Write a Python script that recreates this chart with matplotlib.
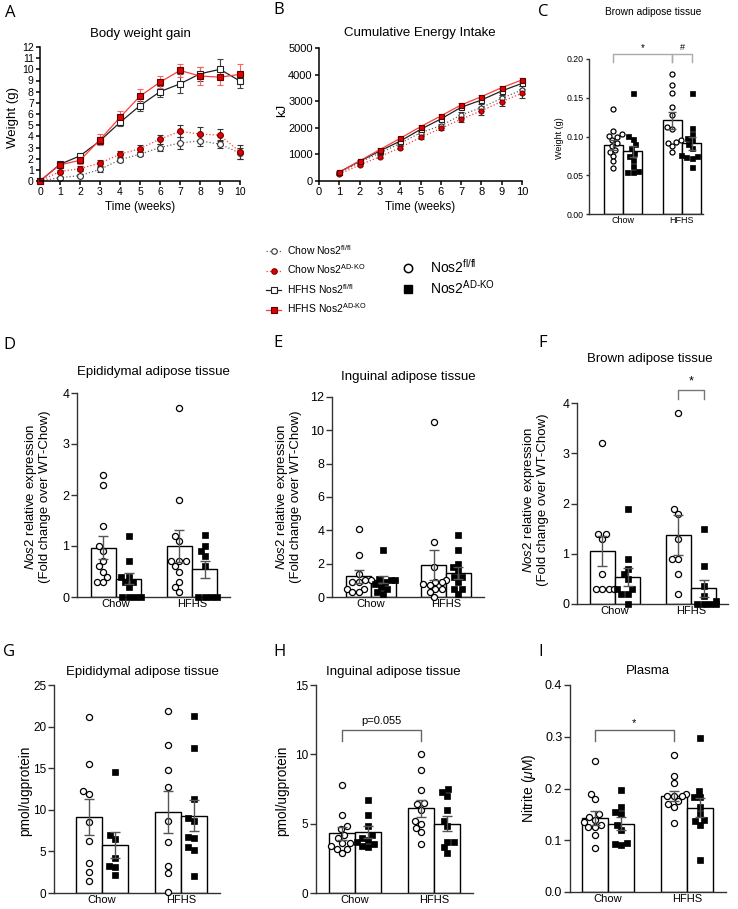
import numpy as np
import matplotlib
matplotlib.use("Agg")
import matplotlib.pyplot as plt
from matplotlib.lines import Line2D

plt.rcParams['font.family'] = ['Liberation Sans', 'DejaVu Sans']
plt.rcParams['mathtext.fontset'] = 'custom'
plt.rcParams['mathtext.rm'] = 'Liberation Sans'
plt.rcParams['mathtext.it'] = 'Liberation Sans:italic'

# ---- A: body weight gain (g) ----
weeks = list(range(11))
bw_chow_wt = [0, 0.3, 0.48, 1.05, 1.9, 2.4, 3.0, 3.4, 3.6, 3.3, 2.5]
bw_chow_wt_sem = [0, 0.1, 0.15, 0.2, 0.2, 0.2, 0.35, 0.5, 0.5, 0.35, 0.5]
bw_chow_ko = [0, 0.85, 1.1, 1.6, 2.4, 2.9, 3.75, 4.45, 4.2, 4.1, 2.6]
bw_chow_ko_sem = [0, 0.15, 0.2, 0.25, 0.25, 0.3, 0.4, 0.55, 0.6, 0.55, 0.6]
bw_hfhs_wt = [0, 1.5, 2.25, 3.6, 5.25, 6.75, 8.0, 8.7, 9.6, 10.0, 8.95]
bw_hfhs_wt_sem = [0, 0.15, 0.2, 0.3, 0.35, 0.45, 0.5, 0.85, 0.6, 0.9, 0.6]
bw_hfhs_ko = [0, 1.45, 1.85, 3.7, 5.7, 7.6, 8.85, 9.9, 9.4, 9.3, 9.55]
bw_hfhs_ko_sem = [0, 0.15, 0.3, 0.5, 0.55, 0.65, 0.55, 0.6, 0.8, 0.7, 0.9]

# ---- B: cumulative energy intake (kJ) ----
ei_weeks = list(range(1, 11))
ei_chow_wt = [300, 700, 1050, 1415, 1815, 2080, 2480, 2757, 3110, 3420]
ei_chow_wt_sem = [30, 40, 50, 60, 60, 80, 100, 120, 130, 140]
ei_chow_ko = [260, 600, 915, 1255, 1640, 1980, 2320, 2645, 2985, 3300]
ei_chow_ko_sem = [30, 40, 50, 50, 60, 70, 90, 150, 160, 170]
ei_hfhs_wt = [340, 740, 1130, 1500, 1940, 2330, 2770, 3045, 3385, 3670]
ei_hfhs_wt_sem = [30, 40, 50, 60, 60, 70, 60, 80, 80, 90]
ei_hfhs_ko = [330, 760, 1180, 1605, 2040, 2445, 2857, 3170, 3510, 3800]
ei_hfhs_ko_sem = [30, 40, 50, 50, 50, 60, 60, 60, 70, 70]

# bar panels: order = Chow fl/fl, Chow AD-KO, HFHS fl/fl, HFHS AD-KO
groups = ['Chow', 'HFHS']

c_means = [0.089, 0.081, 0.121, 0.091]
c_sems = [0.006, 0.007, 0.011, 0.008]
c_points = [
    [0.135, 0.107, 0.103, 0.101, 0.100, 0.096, 0.092, 0.088, 0.082, 0.080, 0.075, 0.068, 0.059],
    [0.156, 0.101, 0.097, 0.090, 0.085, 0.079, 0.075, 0.070, 0.062, 0.055, 0.054, 0.054],
    [0.181, 0.166, 0.156, 0.138, 0.128, 0.112, 0.110, 0.095, 0.093, 0.092, 0.088, 0.080],
    [0.156, 0.111, 0.103, 0.098, 0.095, 0.090, 0.085, 0.076, 0.075, 0.073, 0.072, 0.061],
]

d_means = [0.97, 0.36, 1.0, 0.54]
d_sems = [0.23, 0.11, 0.31, 0.16]
d_points = [
    [2.4, 2.2, 1.4, 1.0, 0.9, 0.7, 0.6, 0.5, 0.4, 0.3, 0.3],
    [1.2, 0.7, 0.4, 0.4, 0.3, 0.3, 0.2, 0.0, 0.0, 0.0, 0.0],
    [3.7, 1.9, 1.2, 1.1, 0.7, 0.7, 0.7, 0.6, 0.5, 0.3, 0.2, 0.1],
    [1.22, 1.0, 0.9, 0.8, 0.6, 0.0, 0.0, 0.0, 0.0],
]

e_means = [1.24, 1.05, 1.9, 1.45]
e_sems = [0.4, 0.2, 0.9, 0.35]
e_points = [
    [4.1, 2.5, 1.4, 1.0, 1.0, 0.9, 0.9, 0.5, 0.5, 0.3, 0.3],
    [2.8, 1.1, 1.0, 1.0, 0.9, 0.8, 0.6, 0.5, 0.3, 0.2],
    [10.5, 3.3, 1.8, 1.0, 0.9, 0.9, 0.8, 0.7, 0.5, 0.5, 0.3, 0.0],
    [3.7, 2.8, 2.0, 1.8, 1.6, 1.2, 1.2, 0.9, 0.5, 0.5, 0.2],
]

f_means = [1.05, 0.54, 1.38, 0.31]
f_sems = [0.3, 0.18, 0.4, 0.17]
f_points = [
    [3.2, 1.4, 1.4, 1.3, 0.6, 0.3, 0.3, 0.3, 0.3],
    [1.9, 0.9, 0.7, 0.6, 0.5, 0.3, 0.3, 0.2, 0.2, 0.0],
    [3.8, 1.9, 1.8, 1.3, 0.9, 0.9, 0.6, 0.2],
    [1.5, 0.75, 0.35, 0.15, 0.05, 0.0, 0.0, 0.0, 0.0],
]

g_means = [9.15, 5.75, 9.7, 9.3]
g_sems = [2.2, 1.6, 2.5, 1.9]
g_points = [
    [21.2, 15.5, 12.2, 11.9, 8.5, 6.2, 3.6, 2.5, 1.4],
    [14.5, 7.0, 6.5, 4.2, 3.3, 3.1, 2.2],
    [21.9, 17.8, 14.8, 12.8, 8.7, 6.1, 3.2, 2.4, 0.1],
    [21.3, 17.4, 11.3, 9.0, 8.7, 6.7, 6.6, 5.5, 5.2, 2.0],
]

h_means = [4.3, 4.4, 6.1, 5.0]
h_sems = [0.45, 0.4, 0.6, 0.55]
h_points = [
    [7.8, 5.6, 4.8, 4.6, 4.2, 4.0, 3.6, 3.6, 3.4, 3.2, 3.2, 2.9],
    [6.7, 5.6, 4.8, 4.2, 4.0, 3.8, 3.7, 3.5, 3.4, 3.3],
    [10.0, 8.9, 7.4, 6.5, 6.4, 6.0, 5.2, 5.0, 4.7, 4.4, 3.5],
    [7.5, 7.3, 7.0, 6.0, 5.2, 4.8, 3.7, 3.7, 3.3, 2.9],
]

i_means = [0.143, 0.132, 0.186, 0.163]
i_sems = [0.013, 0.013, 0.01, 0.018]
i_points = [
    [0.254, 0.19, 0.18, 0.15, 0.145, 0.14, 0.135, 0.13, 0.125, 0.125, 0.11, 0.085],
    [0.197, 0.165, 0.155, 0.15, 0.13, 0.12, 0.095, 0.092, 0.09],
    [0.264, 0.225, 0.21, 0.19, 0.185, 0.185, 0.185, 0.175, 0.17, 0.165, 0.133],
    [0.298, 0.195, 0.183, 0.183, 0.165, 0.15, 0.14, 0.138, 0.13, 0.062],
]

W, H = 738, 909
fig = plt.figure(figsize=(W / 100, H / 100), dpi=100)


def box(x0, y0, x1, y1):
    return fig.add_axes([x0 / W, 1 - y1 / H, (x1 - x0) / W, (y1 - y0) / H])


def ftext(x, y, s, **kw):
    fig.text(x / W, 1 - y / H, s, **kw)


def style_axes(ax, lw=1.1, fs=8):
    for s in ['top', 'right']:
        ax.spines[s].set_visible(False)
    for s in ['left', 'bottom']:
        ax.spines[s].set_linewidth(lw)
    ax.tick_params(width=lw, length=3, labelsize=fs, pad=1.5)


# ---- line panels ----
RED = '#ff3b3b'
line_styles = [
    dict(color='#666666', ls=':', marker='o', mfc='white', mec='#333333', ecolor='#333333'),
    dict(color=RED, ls=':', marker='o', mfc='#e00000', mec='#7a0000', ecolor='#333333'),
    dict(color='#222222', ls='-', marker='s', mfc='white', mec='#222222', ecolor='#444444'),
    dict(color=RED, ls='-', marker='s', mfc='#e00000', mec='#5a0000', ecolor='#ff6060'),
]

axA = box(40, 47, 240, 181)
for y, e, st in zip([bw_chow_wt, bw_chow_ko, bw_hfhs_wt, bw_hfhs_ko],
                    [bw_chow_wt_sem, bw_chow_ko_sem, bw_hfhs_wt_sem, bw_hfhs_ko_sem],
                    line_styles):
    axA.errorbar(weeks, y, yerr=e, lw=0.9, ms=4.2, mew=0.8, capsize=2.2,
                 elinewidth=0.8, clip_on=False, **st)
axA.set_xlim(0, 10)
axA.set_ylim(0, 12)
axA.set_xticks(range(0, 11))
axA.set_yticks(range(0, 13))
style_axes(axA, fs=7.5)
ftext(140, 34, 'Body weight gain', ha='center', va='center', fontsize=9.5)
ftext(13, 117, 'Weight (g)', rotation=90, ha='center', va='center', fontsize=9.5)
ftext(140, 207, 'Time (weeks)', ha='center', va='center', fontsize=8.5)

axB = box(319, 48, 522, 181)
for y, e, st in zip([ei_chow_wt, ei_chow_ko, ei_hfhs_wt, ei_hfhs_ko],
                    [ei_chow_wt_sem, ei_chow_ko_sem, ei_hfhs_wt_sem, ei_hfhs_ko_sem],
                    line_styles):
    axB.errorbar(ei_weeks, y, yerr=e, lw=0.9, ms=3.6, mew=0.8, capsize=2.0,
                 elinewidth=0.8, clip_on=False, **st)
axB.set_xlim(0, 10)
axB.set_ylim(0, 5000)
axB.set_xticks(range(0, 11))
axB.set_yticks(range(0, 5001, 1000))
style_axes(axB, fs=8)
ftext(420, 33, 'Cumulative Energy Intake', ha='center', va='center', fontsize=9.5)
ftext(282, 110, 'kJ', rotation=90, ha='center', va='center', fontsize=9.5)
ftext(420, 207, 'Time (weeks)', ha='center', va='center', fontsize=8.5)

# ---- legends ----
leg_labels = [r'Chow Nos2$^{\mathrm{fl/fl}}$', r'Chow Nos2$^{\mathrm{AD\text{-}KO}}$',
              r'HFHS Nos2$^{\mathrm{fl/fl}}$', r'HFHS Nos2$^{\mathrm{AD\text{-}KO}}$']
leg_handles = [Line2D([], [], color=st['color'], ls=st['ls'], marker=st['marker'],
                      mfc=st['mfc'], mec=st['mec'], ms=4, mew=0.8, lw=0.9)
               for st in line_styles]
fig.legend(leg_handles, leg_labels, loc='upper left', bbox_to_anchor=(266 / W, 1 - 243 / H),
           frameon=False, fontsize=7.5, handlelength=1.45, handletextpad=0.55,
           labelspacing=0.55, borderpad=0, borderaxespad=0)
geno_handles = [Line2D([], [], ls='none', marker='o', mfc='white', mec='black', ms=6, mew=1.1),
                Line2D([], [], ls='none', marker='s', mfc='black', mec='black', ms=6)]
fig.legend(geno_handles, [r'Nos2$^{\mathrm{fl/fl}}$', r'Nos2$^{\mathrm{AD\text{-}KO}}$'],
           loc='upper left', bbox_to_anchor=(401 / W, 1 - 258 / H), frameon=False,
           fontsize=10, handlelength=1.0, handletextpad=1.1, labelspacing=0.15,
           borderpad=0, borderaxespad=0)


# ---- bar panels ----
def swarm(vals, ppu, d=6.4, maxw=12):
    ys = np.asarray(vals, float) * ppu
    cands = sorted(np.arange(-maxw, maxw + 0.01, 0.5), key=abs)
    placed, out = [], np.zeros(len(ys))
    for i in np.argsort(ys):
        for c in cands:
            if all((c - px) ** 2 + (ys[i] - py) ** 2 >= d * d for px, py in placed):
                break
        placed.append((c, ys[i]))
        out[i] = c
    return out


def bar_panel(b, xl, ylim, yticks, fmt, means, sems, pts, yfs=9, xfs=8, ms=4.4, cap=3.5,
              w=0.33, tlen=4):
    ax = box(*b)
    x0, y0, x1, y1 = b
    pos = [-w / 2, w / 2, 1 - w / 2, 1 + w / 2]
    ax.bar(pos, means, width=w, color='white', edgecolor='black', linewidth=1, zorder=1)
    ppu = (y1 - y0) / (ylim[1] - ylim[0])
    dpp = (xl[1] - xl[0]) / (x1 - x0)
    for k, (p, vals) in enumerate(zip(pos, pts)):
        off = swarm(vals, ppu, d=ms * 1.45) * dpp
        if k % 2 == 0:
            ax.plot(p + off, vals, ls='none', marker='o', mfc='white', mec='black',
                    ms=ms, mew=0.9, clip_on=False, zorder=3)
        else:
            ax.plot(p + off, vals, ls='none', marker='s', mfc='black', mec='black',
                    ms=ms, mew=0.5, clip_on=False, zorder=3)
    ax.errorbar(pos, means, yerr=sems, fmt='none', ecolor='#555555', elinewidth=1,
                capsize=cap, capthick=1, zorder=4)
    ax.set_xlim(xl)
    ax.set_ylim(ylim)
    ax.set_yticks(yticks)
    ax.set_yticklabels([fmt.format(t) for t in yticks])
    ax.set_xticks([0, 1])
    ax.set_xticklabels(groups)
    for s in ['top', 'right']:
        ax.spines[s].set_visible(False)
    for s in ['left', 'bottom']:
        ax.spines[s].set_linewidth(1)
        ax.spines[s].set_color('#333333')
    ax.tick_params(axis='y', length=tlen, width=1, color='#333333', labelsize=yfs, pad=1.5)
    ax.tick_params(axis='x', length=0, labelsize=xfs, pad=1.5)
    return ax, pos


def bracket(ax, xa, xb, ytop, yleg, color='#777777', lw=1):
    ax.plot([xa, xa, xb, xb], [yleg, ytop, ytop, yleg], color=color, lw=lw,
            clip_on=False, zorder=5)


nos2_label = r'$\mathit{Nos2}$ relative expression' + '\n(Fold change over WT-Chow)'

# C
axC, pC = bar_panel((589, 59, 703, 214), (-0.576, 1.356), (0, 0.2),
                    [0, 0.05, 0.10, 0.15, 0.20], '{:.2f}', c_means, c_sems, c_points,
                    yfs=6.3, xfs=6.5, ms=3.6, cap=2.8, tlen=2.5)
bracket(axC, pC[0], pC[2], 0.2065, 0.196, color='#aaaaaa')
bracket(axC, pC[2], pC[3], 0.2065, 0.196, color='#aaaaaa')
axC.text((pC[0] + pC[2]) / 2, 0.2075, '*', ha='center', va='bottom', fontsize=7)
axC.text((pC[2] + pC[3]) / 2, 0.2085, '#', ha='center', va='bottom', fontsize=6.5)
ftext(653, 12, 'Brown adipose tissue', ha='center', va='center', fontsize=7.3)
ftext(560, 138, 'Weight (g)', rotation=90, ha='center', va='center', fontsize=6.5)

# D
axD, pD = bar_panel((77, 393, 230, 597), (-0.513, 1.5), (0, 4), range(5), '{:d}',
                    d_means, d_sems, d_points)
ftext(153, 372, 'Epididymal adipose tissue', ha='center', va='center', fontsize=9.5)
ftext(37, 497, nos2_label, rotation=90, ha='center', va='center', fontsize=9.5,
      multialignment='center', linespacing=1.1)

# E
axE, pE = bar_panel((332, 397, 484, 597), (-0.52, 1.507), (0, 12), range(0, 13, 2), '{:d}',
                    e_means, e_sems, e_points)
ftext(408, 377, 'Inguinal adipose tissue', ha='center', va='center', fontsize=9.5)
ftext(288, 497, nos2_label, rotation=90, ha='center', va='center', fontsize=9.5,
      multialignment='center', linespacing=1.1)

# F
axF, pF = bar_panel((577, 403, 728, 604), (-0.5, 1.487), (0, 4), range(5), '{:d}',
                    f_means, f_sems, f_points)
bracket(axF, pF[2], pF[3], 4.26, 4.07, color='#777777')
axF.text((pF[2] + pF[3]) / 2, 4.3, '*', ha='center', va='bottom', fontsize=9)
ftext(650, 359, 'Brown adipose tissue', ha='center', va='center', fontsize=9.5)
ftext(535, 500, nos2_label, rotation=90, ha='center', va='center', fontsize=9.5,
      multialignment='center', linespacing=1.1)

# G
axG, pG = bar_panel((54, 685, 220, 893), (-0.608, 1.494), (0, 25), range(0, 26, 5), '{:d}',
                    g_means, g_sems, g_points, yfs=8.5)
ftext(142, 672, 'Epididymal adipose tissue', ha='center', va='center', fontsize=9.5)
ftext(25, 791, 'pmol/ugprotein', rotation=90, ha='center', va='center', fontsize=9.8)

# H
axH, pH = bar_panel((316, 685, 473, 893), (-0.494, 1.494), (0, 15), range(0, 16, 5), '{:d}',
                    h_means, h_sems, h_points, yfs=8.5)
bracket(axH, pH[0], pH[2], 11.75, 10.96, color='#666666')
axH.text((pH[0] + pH[2]) / 2, 12.05, 'p=0.055', ha='center', va='bottom', fontsize=8)
ftext(393, 672, 'Inguinal adipose tissue', ha='center', va='center', fontsize=9.5)
ftext(282, 791, 'pmol/ugprotein', rotation=90, ha='center', va='center', fontsize=9.8)

# I
axI, pI = bar_panel((570, 685, 726, 892), (-0.481, 1.494), (0, 0.4),
                    [0, 0.1, 0.2, 0.3, 0.4], '{:.1f}', i_means, i_sems, i_points)
bracket(axI, pI[0], pI[2], 0.313, 0.292, color='#666666')
axI.text((pI[0] + pI[2]) / 2, 0.316, '*', ha='center', va='bottom', fontsize=8)
ftext(648, 671, 'Plasma', ha='center', va='center', fontsize=9.5)
ftext(529, 788, r'Nitrite ($\mu$M)', rotation=90, ha='center', va='center', fontsize=10)

# panel letters
for letter, x, y in [('A', 5, 13), ('B', 273, 10), ('C', 538, 12), ('D', 3, 345),
                     ('E', 273, 343), ('F', 538, 343), ('G', 3, 652), ('H', 273, 652),
                     ('I', 538, 652)]:
    ftext(x, y, letter, ha='left', va='center', fontsize=12, family=['Open Sans', 'DejaVu Sans'])

fig.savefig('out.png', dpi=100)
